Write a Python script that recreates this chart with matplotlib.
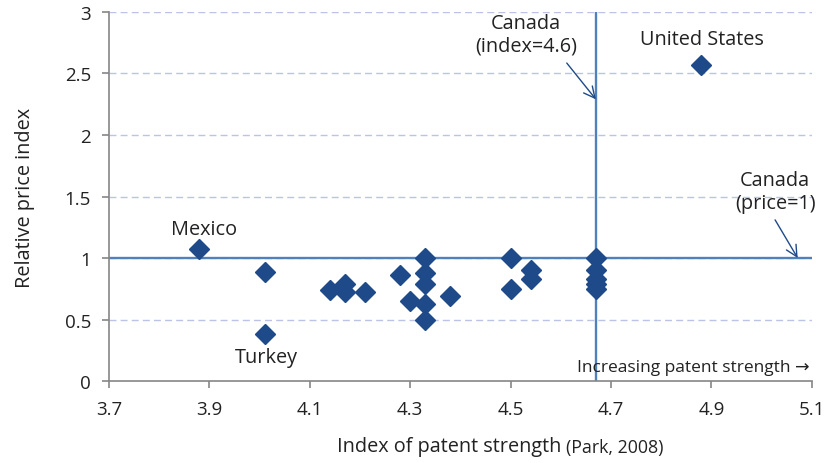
import matplotlib.pyplot as plt

plt.rcParams['font.family'] = ['Open Sans', 'DejaVu Sans']

# patent strength index (x) vs relative price index (y)
patent_index = [3.88, 4.01, 4.01, 4.14, 4.17, 4.17, 4.21, 4.28, 4.30,
                4.33, 4.33, 4.33, 4.33, 4.33, 4.38,
                4.50, 4.50, 4.54, 4.54,
                4.67, 4.67, 4.67, 4.67, 4.67, 4.88]
price_index = [1.07, 0.89, 0.38, 0.74, 0.79, 0.72, 0.72, 0.86, 0.65,
               1.00, 0.88, 0.79, 0.63, 0.50, 0.69,
               1.00, 0.75, 0.90, 0.83,
               1.00, 0.90, 0.83, 0.79, 0.75, 2.57]

canada_index = 4.67
canada_price = 1.0

x_ticks = [3.7, 3.9, 4.1, 4.3, 4.5, 4.7, 4.9, 5.1]
y_ticks = [0, 0.5, 1, 1.5, 2, 2.5, 3]
y_tick_labels = ['0', '0.5', '1', '1.5', '2', '2.5', '3']

fig = plt.figure(figsize=(8.3, 4.64), dpi=100)
ax = fig.add_axes([0.1313, 0.1767, 0.8467, 0.7953])

ax.set_xlim(3.7, 5.1)
ax.set_ylim(0, 3)
ax.set_xticks(x_ticks)
ax.set_xticklabels([str(v) for v in x_ticks])
ax.set_yticks(y_ticks)
ax.set_yticklabels(y_tick_labels)

for y in y_ticks[1:]:
    ax.axhline(y, color='#BCC3E6', lw=1, ls=(0, (5, 3)), zorder=0)

ax.axhline(canada_price, color='#4F81BD', lw=1.7, zorder=1)
ax.axvline(canada_index, color='#4F81BD', lw=1.7, zorder=1)

ax.plot(patent_index, price_index, 'D', ms=10, color='#1F4A8A',
        mec='#1F4A8A', zorder=3)

for s in ['top', 'right']:
    ax.spines[s].set_visible(False)
for s in ['left', 'bottom']:
    ax.spines[s].set_color('#868686')
    ax.spines[s].set_linewidth(1.2)
ax.tick_params(axis='both', colors='#868686', length=5, width=1.2,
               labelsize=13.5, labelcolor='#222222')
ax.tick_params(axis='x', pad=9)
ax.tick_params(axis='y', pad=8)

ax.set_ylabel('Relative price index', fontsize=14.3, color='#222222', labelpad=21)

t1 = fig.text(0.682, 0.025, 'Index of patent strength ', fontsize=14.3,
              color='#222222', ha='right', va='baseline')
ax.annotate('(Park, 2008)', xy=(1, 0), xycoords=t1, fontsize=12.8,
            color='#222222', ha='left', va='bottom')

arrow = dict(arrowstyle='->', color='#1F4A8A', lw=1, mutation_scale=20,
             shrinkA=0, shrinkB=0)
ax.annotate('', xy=(canada_index, 2.29), xytext=(4.612, 2.585),
            arrowprops=arrow)
ax.annotate('', xy=(5.072, canada_price), xytext=(5.027, 1.31),
            arrowprops=arrow)

ax.text(4.531, 2.82, 'Canada\n(index=4.6)', ha='center', va='center',
        fontsize=14.3, color='#222222', linespacing=1.2)
ax.text(5.027, 1.54, 'Canada\n(price=1)', ha='center', va='center',
        fontsize=14.3, color='#222222', linespacing=1.2)
ax.text(4.881, 2.78, 'United States', ha='center', va='center',
        fontsize=14.3, color='#222222')
ax.text(3.889, 1.236, 'Mexico', ha='center', va='center',
        fontsize=14.3, color='#222222')
ax.text(4.013, 0.195, 'Turkey', ha='center', va='center',
        fontsize=14.3, color='#222222')
ax.text(5.095, 0.114, 'Increasing patent strength \u2192', ha='right',
        va='center', fontsize=12.5, color='#222222')

fig.savefig('out.png', dpi=100)
